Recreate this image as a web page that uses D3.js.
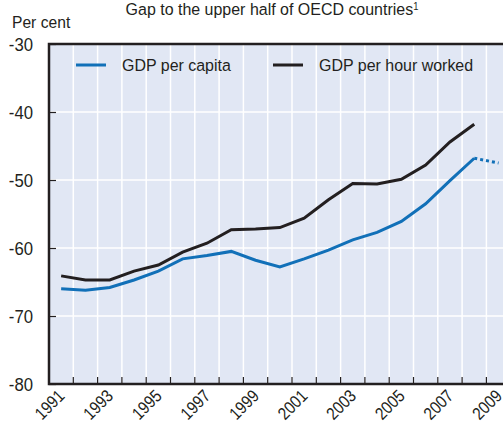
<!DOCTYPE html>
<html lang="en">
<head>
    <meta charset="utf-8">
    <title></title>
    <script src="https://d3js.org/d3.v7.min.js"></script>
    <style type="text/css">
        body{
            margin: 0;
            background: #fff;
        }
        text{
            font-family: "Liberation Sans", Arial, sans-serif;
            fill: #231f20;
        }
    </style>
</head>
<body>
    <div id="frame"></div>
    <script type="text/javascript">

        // years on the category axis
        const years = d3.range(1991, 2010).map(String);
        const yTicks = [-80, -70, -60, -50, -40, -30];

        // GDP per capita (1991-2008 actual)
        const perCapita = [-66.0, -66.2, -65.8, -64.7, -63.4, -61.6, -61.1, -60.5, -61.8, -62.8,
                           -61.6, -60.3, -58.8, -57.7, -56.1, -53.5, -50.1, -46.8];
        // projection 2008-2009 (dotted)
        const perCapitaProj = [-46.8, -47.5];
        // GDP per hour worked
        const perHour = [-64.1, -64.7, -64.7, -63.4, -62.5, -60.6, -59.3, -57.3, -57.2, -57.0,
                         -55.6, -52.9, -50.5, -50.6, -49.9, -47.8, -44.4, -41.8];

        const seriesNames = ["GDP per capita", "GDP per hour worked"];
        const myColor = ["#1170b8", "#231f20"];

        const W = 503, H = 425;
        const pLeft = 49, pTop = 44, pBottom = 384, pRight = 510.7;

        const svg = d3.select("#frame").append("svg")
            .attr("width", W)
            .attr("height", H);

        const x = d3.scaleBand()
            .domain(years)
            .range([pLeft, pRight])
            .padding(0);

        const y = d3.scaleLinear()
            .domain([-80, -30])
            .range([pBottom, pTop]);

        const cx = d => x(d) + x.bandwidth() / 2;

        // plot background
        svg.append("rect")
            .attr("x", pLeft)
            .attr("y", pTop)
            .attr("width", pRight - pLeft)
            .attr("height", pBottom - pTop)
            .attr("fill", "#e1e7f4");

        // vertical gridlines at category boundaries
        svg.append("g").selectAll("line")
            .data(years.slice(1))
            .enter()
            .append("line")
            .attr("x1", d => x(d))
            .attr("x2", d => x(d))
            .attr("y1", pTop)
            .attr("y2", pBottom)
            .attr("stroke", "#fff")
            .attr("stroke-width", 1.5);

        // horizontal gridlines
        svg.append("g").selectAll("line")
            .data(yTicks.slice(1, -1))
            .enter()
            .append("line")
            .attr("x1", pLeft)
            .attr("x2", pRight)
            .attr("y1", d => y(d))
            .attr("y2", d => y(d))
            .attr("stroke", "#fff")
            .attr("stroke-width", 1.5);

        // lines
        const line = d3.line()
            .x((d, i) => cx(years[i]))
            .y(d => y(d));

        svg.append("path")
            .attr("d", line(perHour))
            .attr("fill", "none")
            .attr("stroke", myColor[1])
            .attr("stroke-width", 3);

        svg.append("path")
            .attr("d", line(perCapita))
            .attr("fill", "none")
            .attr("stroke", myColor[0])
            .attr("stroke-width", 3);

        const projLine = d3.line()
            .x((d, i) => cx(years[17 + i]))
            .y(d => y(d));

        svg.append("path")
            .attr("d", projLine(perCapitaProj))
            .attr("fill", "none")
            .attr("stroke", myColor[0])
            .attr("stroke-width", 3)
            .attr("stroke-dasharray", "3,3");

        // y axis: ticks point into the plot
        const yAxis = svg.append("g")
            .attr("transform", "translate(" + pLeft + ",0)")
            .call(d3.axisRight(y).tickValues(yTicks).tickSize(7).tickFormat(d => String(d)));
        yAxis.select(".domain").remove();
        yAxis.selectAll("line").attr("stroke", "#231f20").attr("stroke-width", 1.2);
        yAxis.selectAll("text")
            .attr("x", null)
            .attr("dy", "0.35em")
            .attr("text-anchor", "end")
            .attr("transform", "translate(-16,0) scale(0.88,1)")
            .style("font-size", "19px");

        // x axis: ticks at category boundaries, pointing up
        svg.append("g").selectAll("line")
            .data(years.slice(1))
            .enter()
            .append("line")
            .attr("x1", d => x(d))
            .attr("x2", d => x(d))
            .attr("y1", pBottom)
            .attr("y2", pBottom - 7)
            .attr("stroke", "#231f20")
            .attr("stroke-width", 1.2);

        svg.append("g").selectAll("text")
            .data(years.filter((d, i) => i % 2 === 0))
            .enter()
            .append("text")
            .attr("transform", d => "translate(" + (cx(d) + 4.5) + "," + (pBottom + 13) + ") rotate(-45) scale(0.86,1)")
            .attr("text-anchor", "end")
            .style("font-size", "17.5px")
            .text(d => d);

        // frame: left, bottom, top
        svg.append("path")
            .attr("d", "M" + pRight + "," + pTop + "H" + pLeft + "V" + pBottom + "H" + pRight)
            .attr("fill", "none")
            .attr("stroke", "#231f20")
            .attr("stroke-width", 2.5);

        // legend
        const legX = [76, 273];
        const legend = svg.append("g").selectAll("g")
            .data(seriesNames)
            .enter()
            .append("g")
            .attr("transform", (d, i) => "translate(" + legX[i] + ",65)");

        legend.append("line")
            .attr("x1", 0)
            .attr("x2", 30)
            .attr("stroke", (d, i) => myColor[i])
            .attr("stroke-width", 3);

        legend.append("text")
            .attr("transform", "translate(46,0) scale(0.94,1)")
            .attr("dy", "0.35em")
            .style("font-size", "17px")
            .text(d => d);

        // titles
        svg.append("text")
            .attr("transform", "translate(272,15) scale(0.94,1)")
            .attr("text-anchor", "middle")
            .style("font-size", "17px")
            .text("Gap to the upper half of OECD countries")
            .append("tspan")
            .attr("dy", -5)
            .style("font-size", "10px")
            .text("1");

        svg.append("text")
            .attr("transform", "translate(12,28) scale(0.92,1)")
            .style("font-size", "17px")
            .text("Per cent");

    </script>
</body>
</html>
